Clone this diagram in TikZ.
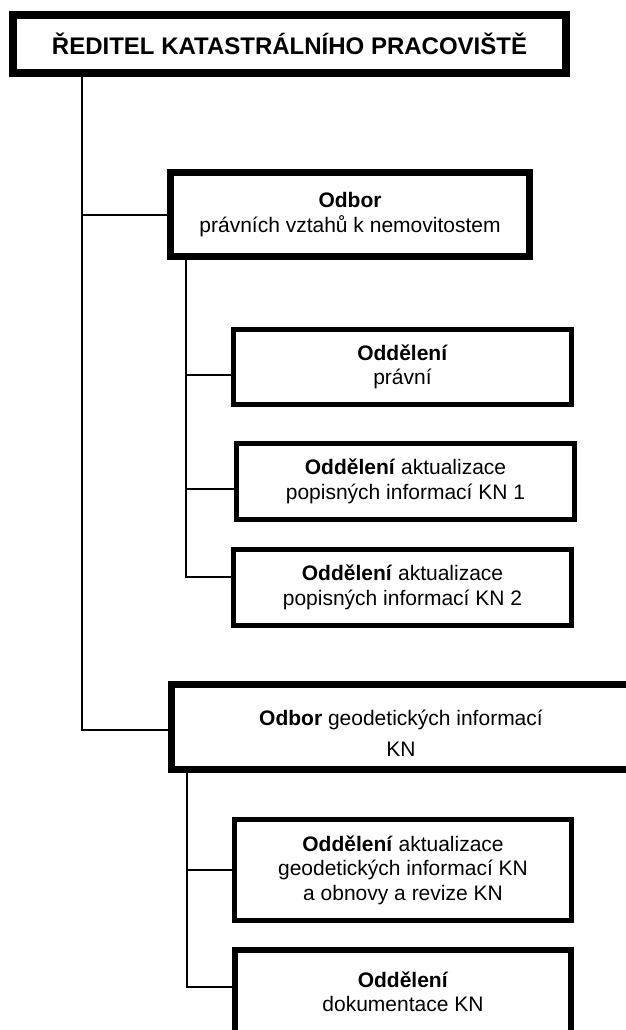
\documentclass[tikz,border=0pt]{standalone}
\usepackage{fontspec}
\setmainfont{Liberation Sans}
\usepackage{tikz}
\usetikzlibrary{positioning,calc}
\tikzstyle{head}=[draw,line width=8pt,inner sep=0pt,minimum width=553pt,minimum height=58pt,font=\bfseries\fontsize{24}{28}\selectfont]
\tikzstyle{odbor}=[draw,line width=7pt,inner sep=0pt,align=center,font=\fontsize{21}{24.5}\selectfont]
\tikzstyle{oddeleni}=[draw,line width=5pt,inner sep=0pt,minimum width=338pt,align=center,font=\fontsize{21}{24.5}\selectfont]
\tikzstyle{conn}=[line width=2pt]

\begin{document}
\begin{tikzpicture}[x=1pt,y=-1pt]
\useasboundingbox (0,0) rectangle (626,1030);
\clip (0,0) rectangle (626,1030);
\node [head] (reditel) at (289.5,44) {ŘEDITEL KATASTRÁLNÍHO PRACOVIŠTĚ};
\node [odbor,minimum width=359pt,minimum height=84pt] (odbor1) at (350,214.5) {\textbf{Odbor}\\právních vztahů k nemovitostem};
\node [oddeleni,minimum height=75pt] (odd1) at (402.5,367) {\textbf{Oddělení}\\právní};
\node [oddeleni,minimum height=76pt] (odd2) at (405.5,481.5) {\textbf{Oddělení} aktualizace\\popisných informací KN 1};
\node [oddeleni,minimum height=76pt] (odd3) at (402.5,587.5) {\textbf{Oddělení} aktualizace\\popisných informací KN 2};
\node [odbor,minimum width=459pt,minimum height=85pt] (odbor2) at (401,727) {\rule{0pt}{28pt}\textbf{Odbor} geodetických informací\\[6pt]KN};
\node [oddeleni,minimum width=337pt,minimum height=101pt] (odd4) at (403,870) {\textbf{Oddělení} aktualizace\\geodetických informací KN\\a obnovy a revize KN};
\node [oddeleni,line width=6pt,minimum width=336pt,minimum height=84pt] (odd5) at (403,992) {\textbf{Oddělení}\\dokumentace KN};

\coordinate (t) at ([xshift=73pt]reditel.south west);
\draw [conn] (t) |- (odbor1.west);
\draw [conn] (t) |- ([yshift=-3pt]odbor2.west);

\coordinate (s1) at ([xshift=19pt]odbor1.south west);
\draw [conn] (s1) |- ([yshift=-8pt]odd1.west);
\draw [conn] (s1) |- ([yshift=-7pt]odd2.west);
\draw [conn] (s1) |- ([yshift=11pt]odd3.west);

\coordinate (s2) at ([xshift=19pt]odbor2.south west);
\draw [conn] (s2) |- (odd4.west);
\draw [conn] (s2) |- ([yshift=5pt]odd5.west);
\end{tikzpicture}
\end{document}
